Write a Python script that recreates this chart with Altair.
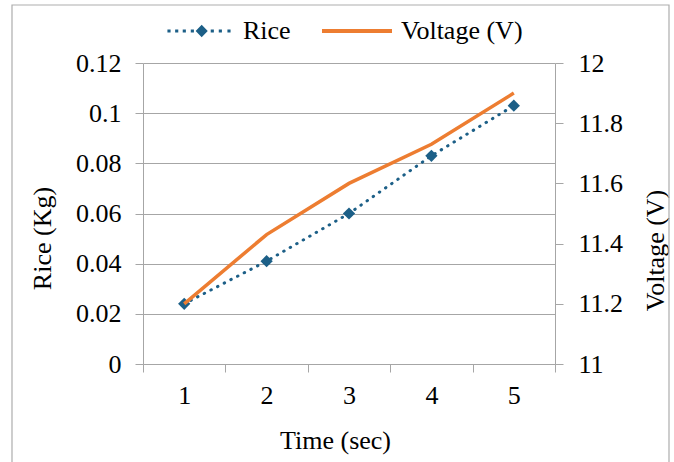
import altair as alt
import pandas as pd

# Measured series
time_sec = [1, 2, 3, 4, 5]
rice_kg = [0.024, 0.041, 0.060, 0.083, 0.103]
voltage_v = [11.20, 11.43, 11.60, 11.73, 11.90]

rice_ticks = [0, 0.02, 0.04, 0.06, 0.08, 0.10, 0.12]
volt_ticks = [11, 11.2, 11.4, 11.6, 11.8, 12]
series_names = ["Rice", "Voltage (V)"]

BLUE = "#1C5F87"
ORANGE = "#ED7D31"
GRID = "#A6A6A6"
FONT = "Liberation Serif"
FS = 26

df = pd.DataFrame({"Time": time_sec, "Rice": rice_kg, "Voltage": voltage_v})


def legend_glyph_rice():
    # dotted line with a diamond marker, in symbol unit coordinates
    parts = ["M0.077,-0.18L0.25,0L0.077,0.18L-0.096,0Z"]
    h = 0.045
    for cx in [-0.857, -0.637, -0.42, -0.19, 0.38, 0.61, 0.857]:
        parts.append(f"M{cx - h:.3f},{-h:.3f}h{2 * h:.3f}v{2 * h:.3f}h{-2 * h:.3f}Z")
    return "".join(parts)


LEGEND_SHAPES = [legend_glyph_rice(), "M-1,-0.055H1V0.055H-1Z"]

x_enc = alt.X(
    "Time:O",
    scale=alt.Scale(type="band", paddingInner=0, paddingOuter=0),
    axis=alt.Axis(
        title="Time (sec)",
        labelAngle=0,
        tickBand="extent",
        tickSize=8,
        labelPadding=10,
        titleX=192,
        titleY=76,
        titleAlign="center",
        titleBaseline="middle",
    ),
)

base = alt.Chart(df)

rice_line = base.mark_line(
    color=BLUE, strokeWidth=3, strokeDash=[0.5, 7], strokeCap="round"
).encode(
    x=x_enc,
    y=alt.Y(
        "Rice:Q",
        scale=alt.Scale(domain=[0, 0.12], nice=False, zero=False),
        axis=alt.Axis(
            title="Rice (Kg)",
            values=rice_ticks,
            format=".2~f",
            grid=True,
            tickSize=8,
            labelPadding=14,
            titleAngle=270,
            titleX=-101,
            titleY=175,
            titleAlign="center",
            titleBaseline="middle",
        ),
    ),
)

rice_pts = base.mark_point(
    shape="diamond", filled=True, size=150, color=BLUE, opacity=1
).encode(x=x_enc, y=alt.Y("Rice:Q"))

volt_line = base.mark_line(color=ORANGE, strokeWidth=3.5).encode(
    x=x_enc,
    y=alt.Y(
        "Voltage:Q",
        scale=alt.Scale(domain=[11, 12], nice=False, zero=False),
        axis=alt.Axis(
            title="Voltage (V)",
            orient="right",
            values=volt_ticks,
            format=".1~f",
            grid=False,
            tickSize=8,
            labelPadding=15,
            titleAngle=270,
            titleX=100,
            titleY=187,
            titleAlign="center",
            titleBaseline="middle",
        ),
    ),
)

# legend source: two off-canvas symbols carrying the series colours and glyphs
legend_src = alt.Chart(pd.DataFrame({"series": series_names})).mark_point(
    filled=True, size=4900, opacity=1
).encode(
    x=alt.value(-3000),
    y=alt.value(-3000),
    color=alt.Color(
        "series:N",
        scale=alt.Scale(domain=series_names, range=[BLUE, ORANGE]),
        legend=alt.Legend(
            title=None,
            orient="none",
            direction="horizontal",
            legendX=21,
            legendY=-67,
            labelFont=FONT,
            labelFontSize=FS,
            labelColor="black",
            labelOffset=9,
            columnPadding=31,
            symbolSize=4900,
            symbolStrokeWidth=0,
            symbolOpacity=1,
            padding=0,
        ),
    ),
    shape=alt.Shape(
        "series:N",
        scale=alt.Scale(domain=series_names, range=LEGEND_SHAPES),
        legend=None,
    ),
)

frame = alt.Chart(pd.DataFrame({"k": [0]})).mark_rect(
    fillOpacity=0, stroke="#ADADAD", strokeWidth=1.2
).encode(
    x=alt.value(-131),
    x2=alt.value(526),
    y=alt.value(-58),
    y2=alt.value(420),
)

chart = (
    alt.layer(
        frame,
        alt.layer(rice_line, rice_pts),
        volt_line,
        legend_src,
    )
    .resolve_scale(y="independent")
    .properties(
        width=412,
        height=301,
        autosize=alt.AutoSizeParams(type="none"),
        padding={"left": 143, "top": 63, "right": 119, "bottom": 98},
        background="white",
    )
    .configure_view(strokeWidth=0)
    .configure_axis(
        labelFont=FONT,
        labelFontSize=FS,
        labelColor="black",
        titleFont=FONT,
        titleFontSize=FS,
        titleFontWeight="normal",
        titleColor="black",
        domainColor=GRID,
        tickColor=GRID,
        gridColor=GRID,
        gridWidth=1,
        domainWidth=1,
        tickWidth=1,
    )
)

chart.save("out.html", embed_options={"renderer": "svg", "actions": False})
